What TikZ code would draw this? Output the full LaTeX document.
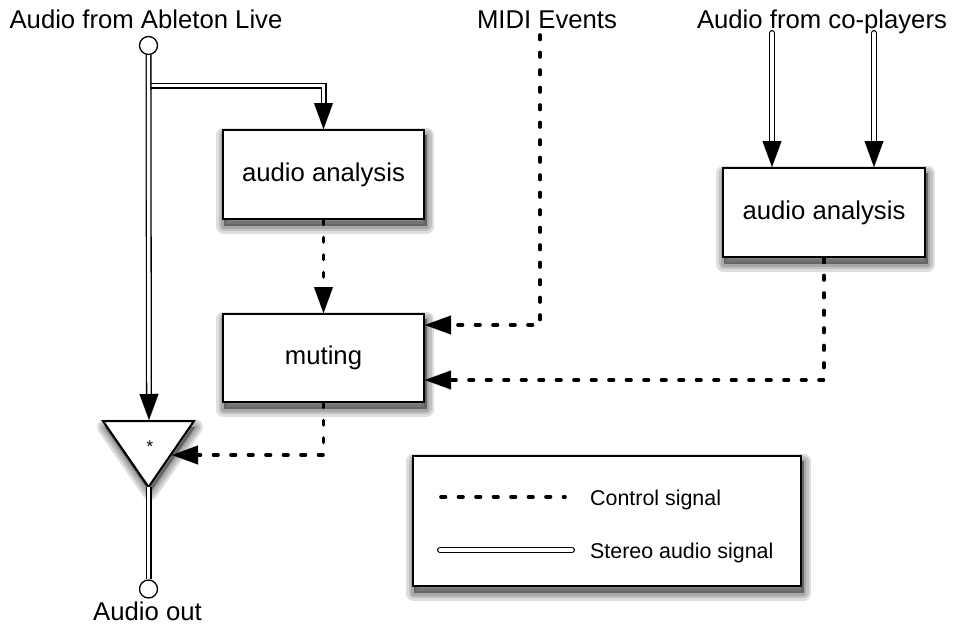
\documentclass[tikz,border=0pt]{standalone}
\usepackage{fontspec}
\setmainfont{Liberation Sans}
\usetikzlibrary{arrows.meta,calc}
\pgfdeclarelayer{bg}
\pgfsetlayers{bg,main}
\begin{document}
\begin{tikzpicture}[x=1pt,y=-1pt,
  bigfont/.style={font=\fontsize{25.7}{30}\selectfont},
  legfont/.style={font=\fontsize{21.4}{26}\selectfont},
  lbl/.style={bigfont, inner sep=0pt, anchor=base},
  shl/.style={preaction={draw=black, draw opacity=0.13, line width=#1, line join=round}},
  shpath/.style={fill=black, fill opacity=0.4, shl=15pt, shl=10pt, shl=5pt},
  blk/.style={draw, line width=2pt, fill=white, bigfont},
  port/.style={circle, draw, line width=1.3pt, fill=white, minimum size=18pt, inner sep=0pt},
  tip/.tip={Triangle[length=26pt,width=19pt,fill=black,color=black,line width=0.01pt]},
  audio/.style={double, double distance=3.4pt, line width=1.3pt, -tip},
  ctrl/.style={line width=3.6pt, dash pattern=on 4.5pt off 13pt, line cap=round, -tip},
]
\useasboundingbox (0,0) rectangle (954,629);
% labels
\node[lbl] (ablet) at (146,28) {Audio from Ableton Live};
\node[lbl] (midi) at (547,28) {MIDI Events};
\node[lbl] (copl) at (822,28) {Audio from co-players};
\node[lbl] (aout) at (147.5,620) {Audio out};
% blocks
\node[blk, minimum width=201pt, minimum height=89pt] (ana1) at (323.5,174.5) {audio analysis};
\node[blk, minimum width=202pt, minimum height=89pt] (ana2) at (824,212.5) {audio analysis};
\node[blk, minimum width=201pt, minimum height=88pt] (mute) at (323.5,358) {muting};
% legend
\node[draw, line width=2pt, fill=white, minimum width=388pt, minimum height=130pt] (legend) at (607,521) {};
% multiplier triangle
\coordinate (triL) at (103,421);
\coordinate (triR) at (194,421);
\coordinate (triB) at (148.5,487);
\coordinate (triT) at (149,420);
\coordinate (triIn) at (172,455);
\draw[line width=2pt, fill=white] (triL) -- (triR) -- (triB) -- cycle;
\node[font=\fontsize{17}{18}\selectfont] (star) at (150,447) {*};
% shadows
\begin{pgfonlayer}{bg}
\foreach \n in {ana1,ana2,mute,legend}{
  \path[shpath] ($(\n.south west)+(1.5,6)$) rectangle ($(\n.north east)+(1.5,6)$);
}
\path[shpath] ($(triL)+(1.5,6)$) -- ($(triR)+(1.5,6)$) -- ($(triB)+(1.5,6)$) -- cycle;
\end{pgfonlayer}
% ports
\node[port] (inp) at (148.5,45.5) {};
\node[port] (outp) at (148.5,589) {};
% audio connectors
\coordinate (br) at (149,85.5);
\draw[audio] (br) -| (ana1.north);
\draw[audio] (inp.south) -- (triT);
\draw[audio,-] (triB) -- (outp.north);
\coordinate (cp1) at (772,33);
\coordinate (cp2) at (874,33);
\draw[audio,line cap=round] (cp1) -- (cp1 |- ana2.north);
\draw[audio,line cap=round] (cp2) -- (cp2 |- ana2.north);
% control connectors
\coordinate (midiS) at (540,35);
\coordinate (muteIn1) at (425,325);
\coordinate (muteIn2) at (425,380);
\draw[ctrl] (ana1.south) -- (mute.north);
\draw[ctrl] (midiS) |- (muteIn1);
\draw[ctrl] (ana2.south) |- (muteIn2);
\draw[ctrl] (mute.south) |- (triIn);
% legend contents
\coordinate (l1a) at (441,497);
\coordinate (l1b) at (565,497);
\coordinate (l2a) at (440,550);
\coordinate (l2b) at (572,550);
\draw[ctrl,-] (l1a) -- (l1b);
\draw[audio,-,line cap=round] (l2a) -- (l2b);
\node[legfont, inner sep=0pt, anchor=base west] (ltxt1) at (590,505) {Control signal};
\node[legfont, inner sep=0pt, anchor=base west] (ltxt2) at (590,558) {Stereo audio signal};
\end{tikzpicture}
\end{document}
